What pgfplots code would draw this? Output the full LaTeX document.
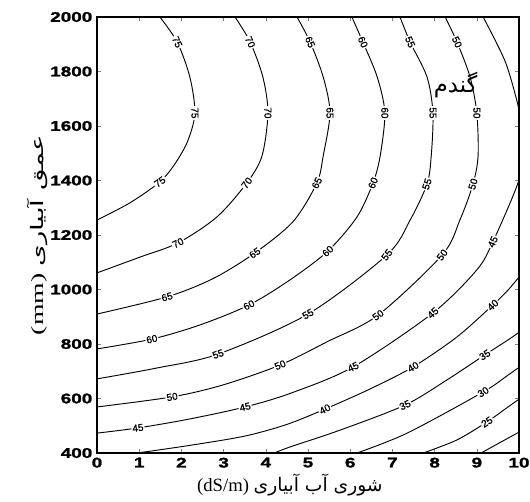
\documentclass[border=0pt]{standalone}
\usepackage{graphicx}
\usepackage{fontspec}
\setmainfont{Liberation Serif}
\newfontfamily\arabicfont[Script=Arabic]{DejaVu Sans}
\newfontfamily\tickfont[FakeStretch=1.35,FakeBold=1.5]{Liberation Sans}
\newfontfamily\labfont[FakeBold=1]{Liberation Sans}
\TeXXeTstate=1
\usepackage{pgfplots}
\pgfplotsset{compat=1.18}
\tikzset{lbl/.style={fill=white, inner sep=0.8pt, font=\labfont\fontsize{7.5}{8}\selectfont},
  cl/.style={black, solid, line width=0.7pt, smooth, mark=none}}
\begin{document}
\begin{tikzpicture}
\useasboundingbox (-72.75pt,-36pt) rectangle (324.75pt,339.75pt);
\begin{axis}[
  scale only axis, width=316.5pt, height=327pt,
  xmin=0, xmax=10, ymin=400, ymax=2000,
  xtick={0,1,...,10}, ytick={400,600,...,2000},
  tick align=inside, major tick length=3pt,
  axis line style={line width=0.8pt},
  scaled ticks=false,
  /pgf/number format/assume math mode=true,
  /pgf/number format/1000 sep={},
  ticklabel style={font=\tickfont\bfseries\fontsize{10.5}{12}\selectfont},
  xlabel={(dS/m) {\arabicfont\beginR شوری آب آبیاری\endR}},
  ylabel={\scalebox{1.6}[1]{(mm) {\arabicfont\beginR عمق آبیاری\endR}}},
  xlabel style={font=\fontsize{14}{16}\selectfont, at={(axis description cs:0.457,-0.073)}, anchor=center},
  ylabel style={font=\fontsize{13}{15}\selectfont, at={(axis description cs:-0.142,0.5)}, anchor=center},
]
% 75
\addplot[cl] coordinates {(0,1255) (0.78,1318) (1.49,1395) (1.85,1462) (2.15,1545) (2.32,1648) (2.20,1780) (1.90,1908) (1.49,2000)};
% 70
\addplot[cl] coordinates {(0,1061) (1.02,1119) (1.92,1171) (2.84,1266) (3.55,1391) (3.91,1490) (4.05,1648) (3.93,1780) (3.63,1908) (3.27,2000)};
% 65
\addplot[cl] coordinates {(0,910) (1.66,973) (2.75,1040) (3.74,1134) (4.65,1250) (5.21,1391) (5.36,1490) (5.52,1648) (5.36,1780) (5.05,1908) (4.74,2000)};
% 60
\addplot[cl] coordinates {(0,782) (1.30,818) (2.44,870) (3.60,943) (4.57,1035) (5.47,1141) (6.16,1266) (6.54,1391) (6.71,1490) (6.82,1648) (6.64,1780) (6.30,1908) (6.04,2000)};
% 55
\addplot[cl] coordinates {(0,672) (1.42,712) (2.87,763) (5.0,910) (6.87,1127) (7.42,1255) (7.82,1387) (7.92,1490) (7.96,1648) (7.82,1780) (7.42,1908) (7.18,2000)};
% 50
\addplot[cl] coordinates {(0,569) (1.78,606) (2.99,650) (4.34,723) (5.45,808) (6.66,906) (8.18,1127) (8.60,1255) (8.91,1387) (9.03,1490) (9.0,1648) (8.84,1780) (8.53,1908) (8.25,2000)};
% 45
\addplot[cl] coordinates {(0,473) (0.97,492) (2.2,525) (3.51,569) (4.6,620) (6.07,716) (7.96,914) (9.0,1072) (9.38,1175) (10.0,1402) (10.1,1530) (10.0,1659) (9.72,1817) (9.45,1910) (9.15,2000)};
% 40
\addplot[cl] coordinates {(0.95,400) (2.2,428) (3.5,462) (4.5,505) (5.40,561) (6.47,635) (7.49,716) (8.53,826) (9.38,943) (9.74,998) (10.05,1055)};
% 35
\addplot[cl] coordinates {(4.2,400) (4.57,422) (5.76,484) (7.30,576) (8.29,668) (9.19,760) (9.74,815) (10.05,848)};
% 30
\addplot[cl] coordinates {(6.16,400) (7.35,473) (9.15,624) (9.74,686) (10.05,720)};
% 25
\addplot[cl] coordinates {(7.73,400) (8.53,448) (9.24,514) (9.74,569) (10.05,603)};
% 20
\addplot[cl] coordinates {(9.1,400) (10.05,481)};

% contour labels
\node[lbl,rotate=35] at (axis cs:1.49,1395) {75};
\node[lbl,rotate=-90] at (axis cs:2.32,1648) {75};
\node[lbl,rotate=-65] at (axis cs:1.90,1908) {75};
\node[lbl,rotate=27] at (axis cs:1.92,1171) {70};
\node[lbl,rotate=52] at (axis cs:3.55,1391) {70};
\node[lbl,rotate=-90] at (axis cs:4.05,1648) {70};
\node[lbl,rotate=-65] at (axis cs:3.63,1908) {70};
\node[lbl,rotate=15] at (axis cs:1.66,973) {65};
\node[lbl,rotate=35] at (axis cs:3.74,1134) {65};
\node[lbl,rotate=62] at (axis cs:5.21,1391) {65};
\node[lbl,rotate=-90] at (axis cs:5.52,1648) {65};
\node[lbl,rotate=-66] at (axis cs:5.05,1908) {65};
\node[lbl,rotate=13] at (axis cs:1.30,818) {60};
\node[lbl,rotate=28] at (axis cs:3.60,943) {60};
\node[lbl,rotate=43] at (axis cs:5.47,1141) {60};
\node[lbl,rotate=68] at (axis cs:6.54,1391) {60};
\node[lbl,rotate=-90] at (axis cs:6.82,1648) {60};
\node[lbl,rotate=-66] at (axis cs:6.30,1908) {60};
\node[lbl,rotate=18] at (axis cs:2.87,763) {55};
\node[lbl,rotate=30] at (axis cs:5.0,910) {55};
\node[lbl,rotate=52] at (axis cs:6.87,1127) {55};
\node[lbl,rotate=72] at (axis cs:7.82,1387) {55};
\node[lbl,rotate=-90] at (axis cs:7.96,1648) {55};
\node[lbl,rotate=-66] at (axis cs:7.42,1908) {55};
\node[lbl,rotate=10] at (axis cs:1.78,606) {50};
\node[lbl,rotate=22] at (axis cs:4.34,723) {50};
\node[lbl,rotate=36] at (axis cs:6.66,906) {50};
\node[lbl,rotate=52] at (axis cs:8.18,1127) {50};
\node[lbl,rotate=73] at (axis cs:8.91,1387) {50};
\node[lbl,rotate=-90] at (axis cs:9.0,1648) {50};
\node[lbl,rotate=-66] at (axis cs:8.53,1908) {50};
\node[lbl,rotate=8] at (axis cs:0.97,492) {45};
\node[lbl,rotate=14] at (axis cs:3.51,569) {45};
\node[lbl,rotate=25] at (axis cs:6.07,716) {45};
\node[lbl,rotate=42] at (axis cs:7.96,914) {45};
\node[lbl,rotate=65] at (axis cs:9.38,1175) {45};
\node[lbl,rotate=28] at (axis cs:5.40,561) {40};
\node[lbl,rotate=30] at (axis cs:7.49,716) {40};
\node[lbl,rotate=42] at (axis cs:9.38,943) {40};
\node[lbl,rotate=25] at (axis cs:7.30,576) {35};
\node[lbl,rotate=33] at (axis cs:9.19,760) {35};
\node[lbl,rotate=32] at (axis cs:9.15,624) {30};
\node[lbl,rotate=33] at (axis cs:9.24,514) {25};

\node[font=\arabicfont\fontsize{17}{19}\selectfont] at (axis cs:8.5,1751) {\beginR گندم\endR};
\end{axis}
\end{tikzpicture}
\end{document}
